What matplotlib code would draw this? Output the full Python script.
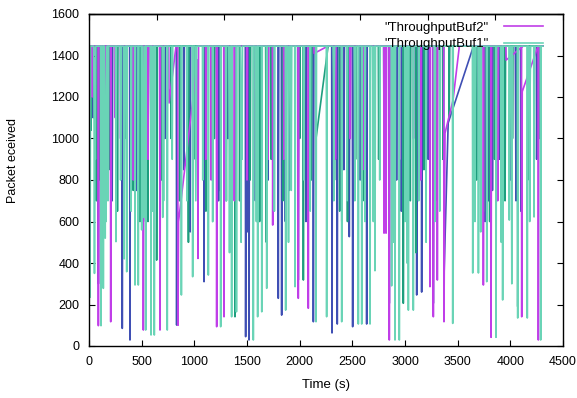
import matplotlib
matplotlib.use("Agg")
import matplotlib.pyplot as plt

plt.rcParams['font.family'] = ['Liberation Sans', 'DejaVu Sans']

CAP = 1445
END_T = 4310

# drop events per trace: time (s), lowest value, seconds until back at the cap
# (a rise of 0 means the next event follows straight on from this point)
buf2_t = [30, 89, 160, 206, 250, 300, 420, 516, 560, 600, 674, 760, 845, 850, 1030,
          1035, 1110, 1160, 1212, 1282, 1380, 1500, 1600, 1700, 1744, 1850, 1987,
          2082, 2137, 2340, 2400, 2480, 2600, 2700, 2801, 2820, 2851, 2950, 3080,
          3150, 3237, 3269, 3307, 3370, 3380, 3456, 3700, 3744, 3817, 3880, 3960,
          4108, 4113, 4266]
buf2_v = [1200, 98, 900, 117, 1100, 1000, 800, 77, 900, 1000, 77, 1171, 100, 599, 1378,
          422, 900, 800, 93, 141, 700, 800, 1000, 900, 583, 900, 230,
          182, 1410, 900, 600, 1000, 850, 900, 544, 544, 29, 900, 1000,
          800, 286, 141, 318, 117, 1026, 1185, 900, 294, 42, 700, 1378,
          141, 1226, 29]
buf2_r = [5, 5, 5, 5, 5, 5, 5, 5, 5, 5, 5, 66, 0, 0, 0,
          5, 5, 5, 5, 5, 5, 5, 5, 5, 5, 5, 5,
          5, 130, 5, 5, 5, 5, 5, 5, 5, 5, 5, 5,
          5, 5, 5, 5, 0, 0, 60, 5, 5, 5, 5, 160,
          0, 150, 5]

buf1_t = [10, 48, 52, 56, 60, 114, 136, 150, 154, 158, 162, 166, 180, 256, 300,
          330, 334, 338, 358, 400, 437, 468, 500, 515, 519, 523, 527, 538, 589,
          600, 604, 608, 620, 700, 704, 708, 743, 790, 877, 930, 984, 1010, 1014,
          1018, 1080, 1133, 1174, 1250, 1300, 1330, 1334, 1338, 1354, 1400, 1440,
          1444, 1448, 1452, 1560, 1585, 1589, 1601, 1640, 1687, 1760, 1867, 1890,
          1894, 1898, 1920, 1956, 2040, 2100, 2155, 2256, 2320, 2324, 2328, 2399,
          2450, 2520, 2524, 2528, 2557, 2589, 2620, 2668, 2695, 2699, 2703, 2715,
          2760, 2873, 2890, 2894, 2905, 2946, 3000, 3015, 3019, 3023, 3032, 3079,
          3130, 3200, 3280, 3284, 3330, 3453, 3643, 3660, 3664, 3668, 3697, 3715,
          3719, 3776, 3864, 3910, 3914, 3927, 3990, 4010, 4014, 4070, 4161, 4180,
          4184, 4188, 4225, 4288]
buf1_v = [235, 1100, 350, 1050, 900, 98, 278, 1200, 520, 1150, 600, 1250, 700, 503, 800,
          1000, 420, 950, 358, 650, 294, 294, 560, 1300, 620, 1250, 700, 77, 53,
          1200, 650, 1150, 53, 620, 1200, 700, 77, 900, 246, 700, 334, 1100, 700,
          1050, 800, 342, 599, 93, 700, 1100, 450, 1050, 141, 165, 1300,
          500, 1250, 900, 29, 1200, 600, 141, 165, 278, 650, 173, 1100,
          500, 1050, 750, 286, 800, 650, 117, 141, 1300, 700, 1250, 117,
          700, 1200, 700, 1150, 106, 106, 600, 106, 1250, 600, 1200, 363,
          800, 290, 1200, 500, 29, 29, 600, 1100, 400, 1050, 173, 173,
          700, 500, 1100, 600, 650, 109, 352, 1200, 600, 1150, 352, 1100,
          550, 310, 42, 1000, 500, 222, 607, 1000, 300, 135, 135, 1300,
          600, 1250, 622, 29]
buf1_r = [5, 0, 0, 0, 5, 5, 5, 0, 0, 0, 0, 5, 5, 5, 5,
          0, 0, 5, 5, 5, 5, 5, 5, 0, 0, 0, 5, 5, 5,
          0, 0, 5, 5, 0, 0, 5, 5, 5, 5, 5, 5, 0, 0,
          5, 5, 5, 5, 5, 5, 0, 0, 5, 5, 5, 0,
          0, 0, 5, 5, 0, 5, 5, 5, 5, 5, 5, 0,
          0, 5, 5, 5, 5, 5, 5, 5, 0, 0, 5, 5,
          5, 0, 0, 5, 5, 5, 5, 5, 0, 0, 5, 5,
          5, 5, 0, 5, 5, 5, 5, 0, 0, 5, 5, 5,
          5, 5, 0, 5, 5, 5, 5, 0, 0, 5, 5, 0,
          5, 5, 5, 0, 5, 5, 5, 0, 5, 5, 5, 0,
          0, 5, 5, 5]

blue_t = [40, 89, 150, 220, 316, 389, 450, 516, 560, 600, 604, 608, 674, 720, 832,
          900, 960, 1092, 1160, 1230, 1240, 1244, 1320, 1487, 1496, 1500, 1504,
          1508, 1519, 1580, 1700, 1797, 1829, 1860, 1864, 1868, 1900, 1987, 2060,
          2130, 2307, 2357, 2420, 2471, 2503, 2570, 2574, 2636, 2700, 2851, 2920,
          2960, 2964, 3111, 3158, 3220, 3269, 3370, 3410, 3720, 3760, 3790, 3794,
          3830, 3900, 4000, 4050, 4054, 4100, 4250]
blue_v = [1100, 300, 950, 700, 85, 29, 750, 600, 900, 1000, 700, 950, 300, 1000, 101,
          850, 550, 310, 900, 700, 1100, 750, 1000, 45, 900, 600, 850,
          550, 29, 700, 800, 230, 149, 1000, 600, 950, 750, 318, 600,
          117, 63, 106, 850, 527, 93, 1200, 800, 106, 1000, 206, 800,
          1100, 650, 246, 260, 900, 206, 326, 1075, 900, 600, 1100, 700,
          750, 900, 800, 1150, 700, 650, 900]
blue_r = [5, 5, 5, 5, 5, 5, 5, 5, 5, 0, 0, 5, 5, 5, 5,
          5, 5, 5, 5, 5, 0, 5, 5, 5, 0, 0, 0,
          5, 5, 5, 5, 5, 5, 0, 0, 5, 5, 5, 5,
          5, 5, 5, 5, 5, 5, 0, 5, 5, 5, 5, 5,
          0, 5, 5, 5, 5, 5, 0, 240, 5, 5, 0, 5,
          5, 5, 5, 0, 5, 5, 5]

teal_t = [20, 70, 95, 99, 120, 200, 270, 340, 420, 480, 484, 560, 642, 690, 780,
          860, 940, 944, 1010, 1110, 1190, 1300, 1304, 1386, 1430, 1530, 1620,
          1680, 1684, 1730, 1840, 2000, 2035, 2110, 2157, 2330, 2380, 2450, 2454,
          2530, 2600, 2750, 2800, 2804, 2984, 3050, 3100, 3104, 3180, 3290, 3360,
          3420, 3680, 3750, 3800, 3804, 3850, 3950, 4020, 4070, 4180, 4280]
teal_v = [1040, 700, 1200, 800, 500, 850, 650, 1000, 750, 1100, 600, 600, 414, 800, 1000,
          700, 1100, 500, 900, 650, 1000, 1150, 700, 141, 700, 800, 600,
          1100, 500, 900, 700, 1000, 318, 800, 1007, 800, 650, 1150, 600,
          900, 700, 900, 1100, 700, 206, 700, 1000, 450, 850, 700, 900,
          1100, 800, 650, 1100, 600, 900, 700, 1000, 190, 800, 1000]
teal_r = [5, 5, 0, 5, 5, 5, 5, 5, 5, 0, 5, 5, 5, 5, 5,
          5, 0, 5, 5, 5, 5, 0, 5, 5, 5, 5, 5,
          0, 5, 5, 5, 5, 5, 5, 113, 5, 5, 0, 5,
          5, 5, 5, 0, 5, 5, 5, 0, 5, 5, 5, 5,
          5, 5, 5, 0, 5, 5, 5, 5, 5, 5, 5]


def build(ts, vs, rs):
    xs, ys = [0], [CAP]
    at_cap = True
    for t, v, r in zip(ts, vs, rs):
        if at_cap:
            xs.append(t - 3)
            ys.append(CAP)
        xs.append(t)
        ys.append(v)
        if r > 0:
            xs.append(t + r)
            ys.append(CAP)
            at_cap = True
        else:
            at_cap = False
    xs.append(END_T)
    ys.append(CAP)
    return xs, ys


fig = plt.figure(figsize=(5.77, 3.98), dpi=100)
ax = fig.add_axes([89 / 577, 1 - 346 / 398, 474 / 577, 332 / 398])

x2, y2 = build(buf2_t, buf2_v, buf2_r)
xb, yb = build(blue_t, blue_v, blue_r)
xt, yt = build(teal_t, teal_v, teal_r)
x1, y1 = build(buf1_t, buf1_v, buf1_r)

ax.plot(xb, yb, color='#3f4fb4', lw=1.2)
ax.plot(xt, yt, color='#1e9e7e', lw=1.2)
l2, = ax.plot(x2, y2, color='#c03ee8', lw=1.2)
l1, = ax.plot(x1, y1, color='#6ad4b6', lw=1.2)

ax.set_xlim(0, 4500)
ax.set_ylim(0, 1600)
ax.set_xticks(range(0, 4501, 500))
ax.set_yticks(range(0, 1601, 200))
ax.tick_params(direction='in', length=4, right=True, top=False, labelsize=9, pad=7)
sec = ax.secondary_xaxis('top')
sec.set_xticks([4500 / 7 * k for k in range(8)])
sec.tick_params(direction='in', length=4, labeltop=False)
for sp in list(ax.spines.values()) + [sec.spines['top']]:
    sp.set_linewidth(1.0)

ax.set_xlabel('Time (s)', fontsize=9.5)
ax.xaxis.set_label_coords(0.5, -0.099)
ax.set_ylabel('Packet eceived', fontsize=9)
ax.yaxis.set_label_coords(-0.147, 0.56)

ax.legend([l2, l1], ['"ThroughputBuf2"', '"ThroughputBuf1"'], loc='upper right',
          bbox_to_anchor=(0.958, 0.978), frameon=False, markerfirst=False,
          fontsize=9.5, handlelength=3.0, handletextpad=1.1, labelspacing=0.35,
          borderpad=0, borderaxespad=0)

fig.savefig('out.png', dpi=100)
